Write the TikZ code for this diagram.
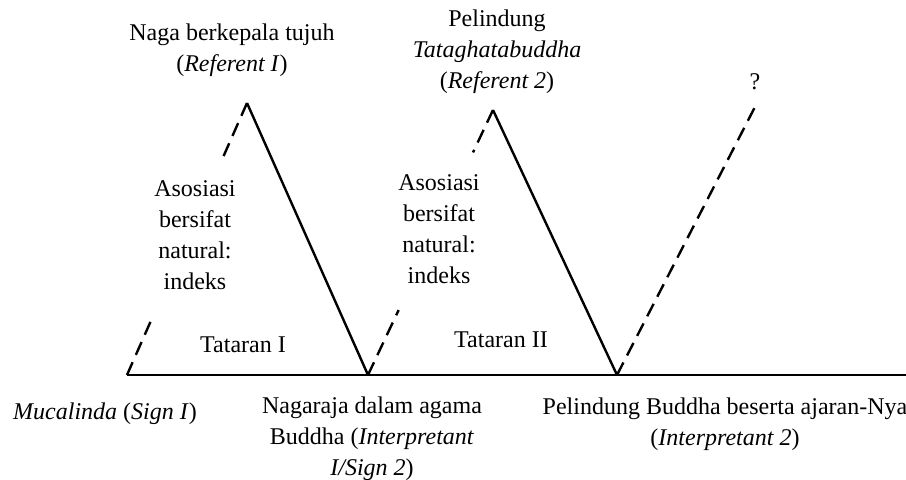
\documentclass[tikz,border=0pt]{standalone}
\usepackage{fontspec}
\setmainfont{Liberation Serif}
\usetikzlibrary{calc}

\begin{document}
\begin{tikzpicture}[x=0.5pt,y=-0.5pt,font=\fontsize{12}{15.5}\selectfont,
            lbl/.style={align=center,inner sep=0pt},
            solidside/.style={line width=1.2pt},
            dashside/.style={line width=1.2pt,dash pattern=on 7pt off 4pt}]
            \useasboundingbox (0,0) rectangle (906,480);
            % corners of the two levels
            \coordinate (sign1) at (127,375);
            \coordinate (ref1) at (247,103);
            \coordinate (int1) at (368,375);
            \coordinate (ref2) at (493,110);
            \coordinate (int2) at (617,375);
            \coordinate (ref3) at (757,103);
            \coordinate (axisend) at (906,375);
            \draw[solidside] (sign1)--(axisend);
            \draw[solidside] (ref1)--(int1);
            \draw[solidside] (ref2)--(int2);
            \draw[dashside] (sign1)--($(sign1)!0.215!(ref1)$);
            \draw[dashside] (ref1)--($(sign1)!0.79!(ref1)$);
            \draw[dashside] (int1)--($(int1)!0.245!(ref2)$);
            \draw[dashside] (ref2)--($(int1)!0.84!(ref2)$);
            \draw[dashside] (int2)--(ref3);
            % labels
            \node[lbl] (referent1) at (232,50) {Naga berkepala tujuh\\(\textit{Referent I})};
            \node[lbl] (referent2) at (497,52) {Pelindung\\\textit{Tataghatabuddha}\\(\textit{Referent 2})};
            \node[lbl] (unknown) at (755,82) {?};
            \node[lbl] (assoc1) at (195,235) {Asosiasi\\bersifat\\natural:\\indeks};
            \node[lbl] (assoc2) at (439,229) {Asosiasi\\bersifat\\natural:\\indeks};
            \node[lbl] (level1) at (243,345) {Tataran I};
            \node[lbl] (level2) at (501,340) {Tataran II};
            \node[lbl] (signlbl) at (105,414) {\textit{Mucalinda} (\textit{Sign I})};
            \node[lbl] (interp1) at (372,439) {Nagaraja dalam agama\\Buddha (\textit{Interpretant}\\\textit{I/Sign 2})};
            \node[lbl] (interp2) at (725,424) {Pelindung Buddha beserta ajaran-Nya\\(\textit{Interpretant 2})};
        \end{tikzpicture}
\end{document}
